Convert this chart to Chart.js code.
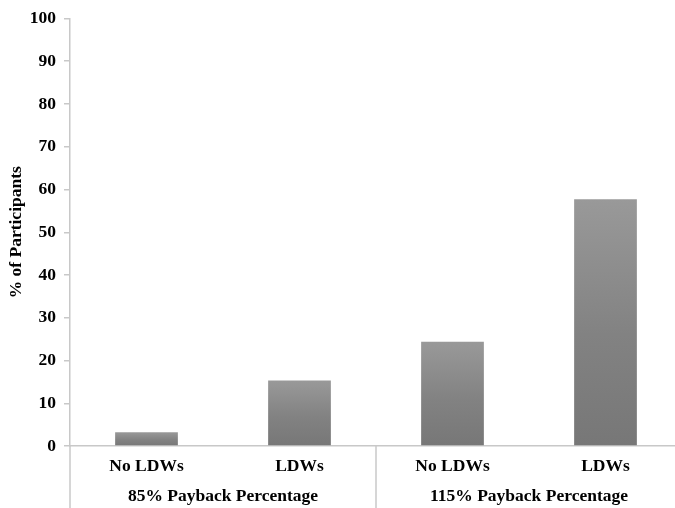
<!DOCTYPE html>
<html>
<head>
<meta charset="utf-8">
<script src="https://cdn.jsdelivr.net/npm/chart.js@4.4.1/dist/chart.umd.min.js"></script>
<style>
  html, body { margin: 0; padding: 0; background: #fff; overflow: hidden; }
  #wrap { width: 682px; height: 508px; }
</style>
</head>
<body>
<div id="wrap"><canvas id="chart"></canvas></div>
<script>
const categories = ['No LDWs', 'LDWs', 'No LDWs', 'LDWs'];
const groups = ['85% Payback Percentage', '115% Payback Percentage'];
const groupSize = [2, 2];
const values = [3.2, 15.3, 24.4, 57.7];
const yTicks = [0, 10, 20, 30, 40, 50, 60, 70, 80, 90, 100];

const FONT = "'Liberation Serif', 'Times New Roman', serif";
const AXIS = '#c8c8c8';

function barFill(ctx) {
    const chart = ctx.chart;
    const area = chart.chartArea;
    if (!area || ctx.parsed === undefined) return '#888';
    const y = chart.scales.y;
    const top = y.getPixelForValue(ctx.parsed.y);
    const bottom = y.getPixelForValue(0);
    const g = chart.ctx.createLinearGradient(0, top, 0, bottom);
    g.addColorStop(0, '#999999');
    g.addColorStop(0.55, '#828282');
    g.addColorStop(1, '#777777');
    return g;
}

// group labels + separators under the category axis
const groupAxis = {
    id: 'groupAxis',
    afterDraw(chart) {
        const { ctx, scales: { x }, chartArea } = chart;
        const step = x.getPixelForValue(1) - x.getPixelForValue(0);
        const bottom = chart.height;
        ctx.save();
        ctx.strokeStyle = AXIS;
        ctx.lineWidth = 1.5;
        let idx = 0;
        const edges = [];
        groups.forEach((g, i) => {
            const left = x.getPixelForValue(idx) - step / 2;
            const right = x.getPixelForValue(idx + groupSize[i] - 1) + step / 2;
            edges.push(left, right);
            ctx.fillStyle = '#000';
            ctx.font = 'bold 17.5px ' + FONT;
            ctx.textAlign = 'center';
            ctx.textBaseline = 'middle';
            ctx.fillText(g, (left + right) / 2, 496);
            idx += groupSize[i];
        });
        [...new Set(edges.map(e => Math.round(e)))].forEach(e => {
            ctx.beginPath();
            ctx.moveTo(e, chartArea.bottom);
            ctx.lineTo(e, bottom);
            ctx.stroke();
        });
        ctx.restore();
    }
};

new Chart(document.getElementById('chart'), {
    type: 'bar',
    data: {
        labels: categories,
        datasets: [{
            data: values,
            backgroundColor: barFill,
            borderWidth: 0,
            barPercentage: 0.41,
            categoryPercentage: 1
        }]
    },
    options: {
        responsive: true,
        maintainAspectRatio: false,
        animation: false,
        layout: { padding: { top: 8, left: 0, right: 0, bottom: 0 } },
        plugins: { legend: { display: false }, tooltip: { enabled: false } },
        scales: {
            x: {
                grid: { display: false },
                border: { color: AXIS, width: 1.5 },
                ticks: { color: '#000', font: { family: FONT, size: 17.5, weight: 'bold' }, padding: 2 },
                afterFit(s) { s.height = 62; }
            },
            y: {
                min: 0, max: 100,
                afterBuildTicks(s) { s.ticks = yTicks.map(v => ({ value: v })); },
                grid: { drawOnChartArea: false, color: AXIS, tickLength: 6, lineWidth: 1.5 },
                border: { color: AXIS, width: 1.5 },
                ticks: { color: '#000', font: { family: FONT, size: 17.5, weight: 'bold' }, padding: 8 },
                title: { display: true, text: '% of Participants', color: '#000', font: { family: FONT, size: 17.5, weight: 'bold' }, padding: { top: 6, bottom: 4 } },
                afterFit(s) { s.width = 70; }
            }
        }
    },
    plugins: [groupAxis]
});
</script>
</body>
</html>
